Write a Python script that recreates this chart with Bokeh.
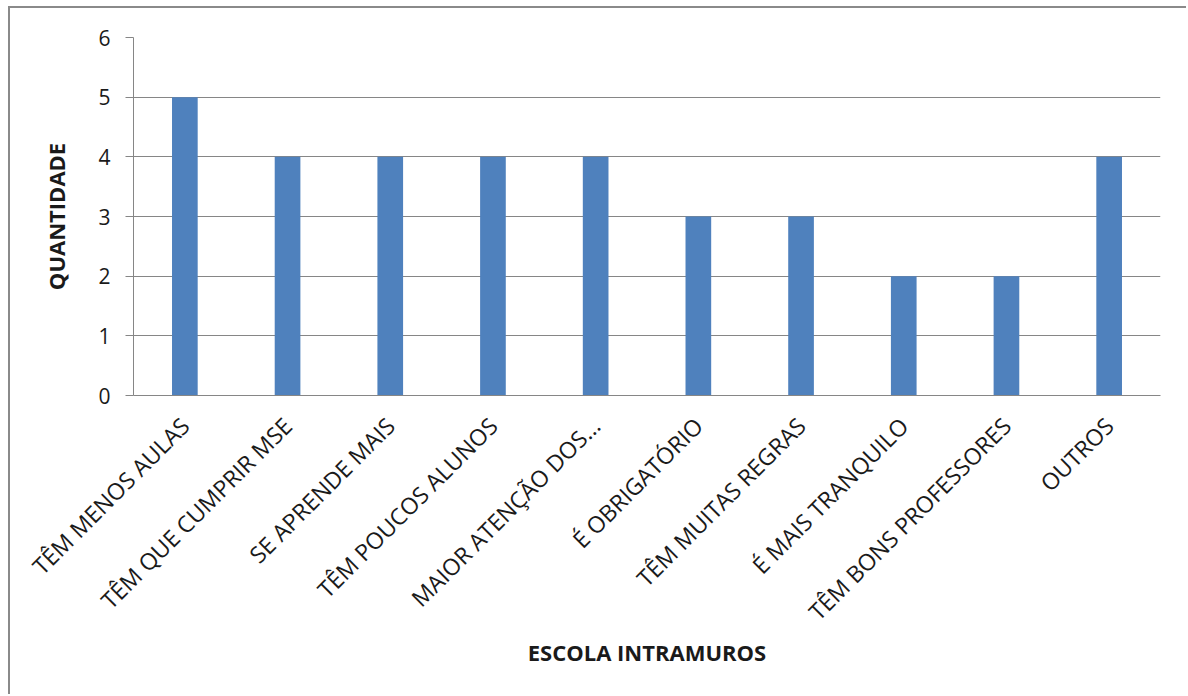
from math import pi

from bokeh.embed import file_html
from bokeh.models import FactorRange, FixedTicker, Range1d
from bokeh.plotting import figure
from bokeh.resources import INLINE

categories = [
    "TÊM MENOS AULAS",
    "TÊM QUE CUMPRIR MSE",
    "SE APRENDE MAIS",
    "TÊM POUCOS ALUNOS",
    "MAIOR ATENÇÃO DOS...",
    "É OBRIGATÓRIO",
    "TÊM MUITAS REGRAS",
    "É MAIS TRANQUILO",
    "TÊM BONS PROFESSORES",
    "OUTROS",
]
quantidade = [5, 4, 4, 4, 4, 3, 3, 2, 2, 4]
y_ticks = [0, 1, 2, 3, 4, 5, 6]

FONT = "Open Sans"
GRID = "#868686"
TEXT = "#1a1a1a"

p = figure(
    x_range=FactorRange(*categories, range_padding=0),
    y_range=Range1d(0, 6),
    width=1178,
    height=688,
    output_backend="svg",
    toolbar_location=None,
    min_border_left=123,
    min_border_right=28,
    min_border_top=29,
    min_border_bottom=301,
)
p.styles = {
    "margin-left": "8px",
    "margin-top": "6px",
    "border-left": "2px solid #8a8a8a",
    "border-top": "2px solid #8a8a8a",
}

p.vbar(x=categories, top=quantidade, width=0.25, color="#4f81bd", line_color=None)

p.outline_line_color = None
p.background_fill_color = "white"
p.border_fill_color = "white"

p.xgrid.grid_line_color = None
p.ygrid.grid_line_color = GRID
p.ygrid.grid_line_width = 1

p.yaxis.ticker = FixedTicker(ticks=y_ticks)
p.yaxis.axis_line_color = GRID
p.yaxis.major_tick_line_color = GRID
p.yaxis.major_tick_out = 8
p.yaxis.major_tick_in = 0
p.yaxis.minor_tick_line_color = None
p.yaxis.major_label_text_font = FONT
p.yaxis.major_label_text_font_size = "21px"
p.yaxis.major_label_text_color = TEXT
p.yaxis.major_label_standoff = 15
p.yaxis.axis_label = "QUANTIDADE"
p.yaxis.axis_label_text_font = FONT
p.yaxis.axis_label_text_font_style = "bold"
p.yaxis.axis_label_text_font_size = "22px"
p.yaxis.axis_label_text_color = TEXT
p.yaxis.axis_label_standoff = 24

p.xaxis.axis_line_color = GRID
p.xaxis.major_tick_line_color = None
p.xaxis.minor_tick_line_color = None
p.xaxis.major_label_orientation = pi / 4
p.xaxis.major_label_text_font = FONT
p.xaxis.major_label_text_font_size = "23px"
p.xaxis.major_label_text_color = TEXT
p.xaxis.major_label_standoff = 20
p.xaxis.axis_label = "ESCOLA INTRAMUROS"
p.xaxis.axis_label_text_font = FONT
p.xaxis.axis_label_text_font_style = "bold"
p.xaxis.axis_label_text_font_size = "22px"
p.xaxis.axis_label_text_color = TEXT
p.xaxis.axis_label_standoff = -4

open("out.html", "w").write(file_html(p, INLINE))
